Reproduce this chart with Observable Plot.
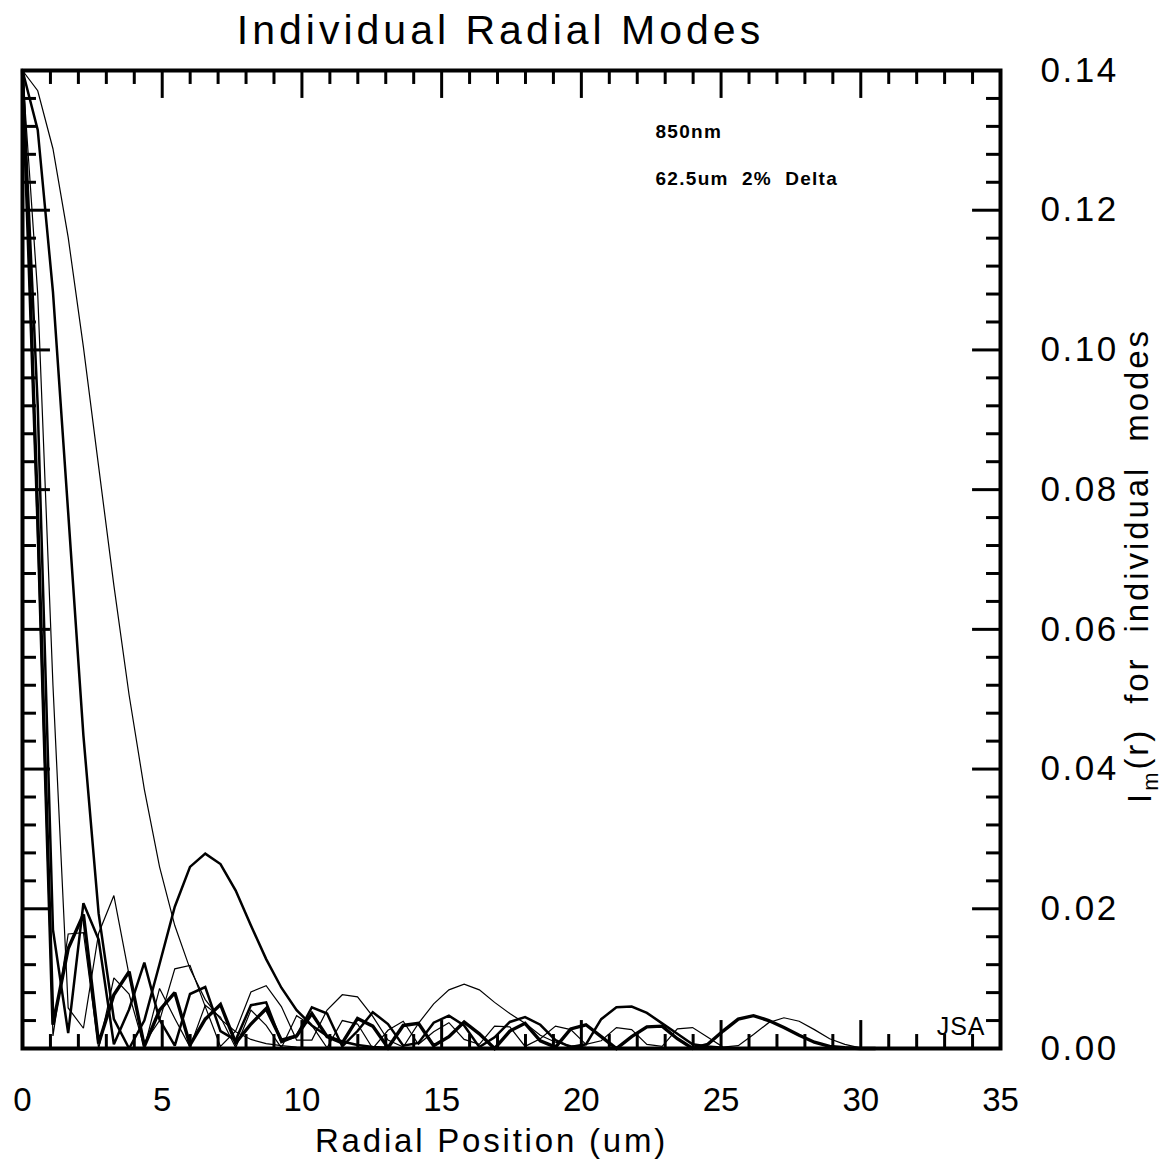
<!DOCTYPE html>
<html>
<head>
<meta charset="utf-8">
<script src="https://cdn.jsdelivr.net/npm/d3@7"></script>
<script src="https://cdn.jsdelivr.net/npm/@observablehq/plot@0.6"></script>
<style>
  html, body { margin: 0; padding: 0; background: #fff; }
  svg text { white-space: pre; }
</style>
</head>
<body>
<div id="chart"></div>
<script>
// Radial sample positions (um)
const radius = [0, 0.545, 1.09, 1.635, 2.18, 2.725, 3.27, 3.815, 4.36, 4.905, 5.45, 5.995, 6.54, 7.085, 7.63, 8.175, 8.72, 9.265, 9.81, 10.355, 10.9, 11.445, 11.99, 12.535, 13.08, 13.625, 14.17, 14.715, 15.26, 15.805, 16.35, 16.895, 17.44, 17.985, 18.53, 19.075, 19.62, 20.165, 20.71, 21.255, 21.8, 22.345, 22.89, 23.435, 23.98, 24.525, 25.07, 25.615, 26.16, 26.705, 27.25, 27.795, 28.34, 28.885, 29.43, 29.975, 30.52, 31.065];

// Intensity of individual radial modes, I_m(r)
const modeA = [0.14, 0.1371, 0.1288, 0.1161, 0.1004, 0.0833, 0.0663, 0.0506, 0.0371, 0.0260, 0.0176, 0.0114, 0.0070, 0.0042, 0.0024, 0.0013, 0.0007, 0.0004, 0.0002, 0.0001, 0, 0, 0];
const modeB = [0.14, 0.1315, 0.1083, 0.0767, 0.0448, 0.0193, 0.0042, 0.0000, 0.0040, 0.0121, 0.0203, 0.0260, 0.0279, 0.0264, 0.0226, 0.0176, 0.0128, 0.0087, 0.0055, 0.0033, 0.0018, 0.0010, 0.0005, 0.0002, 0.0001, 0, 0];
const modeC = [0.14, 0.108, 0.052, 0.0058, 0.0029, 0.0165, 0.0219, 0.0105, 0.0008, 0.0040, 0.0114, 0.0119, 0.0060, 0.0003, 0.0025, 0.0081, 0.0090, 0.0060, 0.0012, 0.0012, 0.0055, 0.0077, 0.0074, 0.0046, 0.0012, 0.0002, 0.0036, 0.0064, 0.0084, 0.0092, 0.0084, 0.0066, 0.0050, 0.0036, 0.0019, 0.0009, 0.0004, 0.0002, 0.0001, 0, 0];
const modeD = [0.14, 0.092, 0.017, 0.0022, 0.0208, 0.0156, 0.0006, 0.0056, 0.0123, 0.0041, 0.0004, 0.0078, 0.0088, 0.0025, 0.0012, 0.0062, 0.0066, 0.0009, 0.0018, 0.0059, 0.0050, 0.0003, 0.0025, 0.0052, 0.0035, 0.0004, 0.0008, 0.0037, 0.0047, 0.0033, 0.0002, 0.0016, 0.0038, 0.0045, 0.0034, 0.0012, 0.0002, 0.0006, 0.0042, 0.0059, 0.0060, 0.0051, 0.0036, 0.0021, 0.0006, 0.0003, 0.0001, 0, 0];
const modeE = [0.14, 0.076, 0.0034, 0.0143, 0.0192, 0.0007, 0.0077, 0.0110, 0.0003, 0.0055, 0.0080, 0.0005, 0.0042, 0.0063, 0.0008, 0.0035, 0.0057, 0.0012, 0.0018, 0.0050, 0.0017, 0.0008, 0.0043, 0.0032, 0.0001, 0.0033, 0.0036, 0.0004, 0.0017, 0.0038, 0.0021, 0.0000, 0.0025, 0.0036, 0.0011, 0.0002, 0.0028, 0.0034, 0.0017, 0.0000, 0.0017, 0.0031, 0.0032, 0.0014, 0.0000, 0.0006, 0.0025, 0.0042, 0.0047, 0.0040, 0.0030, 0.0019, 0.0009, 0.0003, 0.0001, 0, 0];
const modeF = [0.14, 0.0724, 0.0018, 0.0164, 0.0166, 0.0000, 0.0101, 0.0078, 0.0001, 0.0086, 0.0043, 0.0002, 0.0062, 0.0045, 0.0001, 0.0055, 0.0033, 0.0001, 0.0047, 0.0033, 0.0001, 0.0040, 0.0035, 0.0000, 0.0026, 0.0039, 0.0006, 0.0024, 0.0037, 0.0013, 0.0006, 0.0032, 0.0031, 0.0003, 0.0014, 0.0032, 0.0027, 0.0006, 0.0011, 0.0030, 0.0027, 0.0006, 0.0003, 0.0028, 0.0030, 0.0016, 0.0002, 0.0004, 0.0020, 0.0037, 0.0044, 0.0039, 0.0027, 0.0014, 0.0006, 0.0001, 0, 0];

const modes = [
  {name: "A", values: modeA, width: 1.2},
  {name: "B", values: modeB, width: 2.5},
  {name: "C", values: modeC, width: 1.2},
  {name: "D", values: modeD, width: 2.5},
  {name: "E", values: modeE, width: 3.4},
  {name: "F", values: modeF, width: 1.2}
];

// Axis ticks and labels
const xMajor = [0, 5, 10, 15, 20, 25, 30, 35];
const xMinor = [1, 2, 3, 4, 6, 7, 8, 9, 11, 12, 13, 14, 16, 17, 18, 19, 21, 22, 23, 24, 26, 27, 28, 29, 31, 32, 33, 34];
const xLabels = ["0", "5", "10", "15", "20", "25", "30", "35"];
const yMajor = [0, 0.02, 0.04, 0.06, 0.08, 0.10, 0.12, 0.14];
const yMinor = [0.004, 0.008, 0.012, 0.016, 0.024, 0.028, 0.032, 0.036, 0.044, 0.048, 0.052, 0.056, 0.064, 0.068, 0.072, 0.076, 0.084, 0.088, 0.092, 0.096, 0.104, 0.108, 0.112, 0.116, 0.124, 0.128, 0.132, 0.136];
const yLabels = ["0.00", "0.02", "0.04", "0.06", "0.08", "0.10", "0.12", "0.14"];

const title = "Individual Radial Modes";
const xTitle = "Radial Position (um)";
const yTitle = "Im(r)  for  individual  modes";
const notes = ["850nm", "62.5um  2%  Delta"];
const signature = "JSA";

const font = "'Liberation Sans', Arial, Helvetica, sans-serif";

const lineMarks = modes.map(m =>
  Plot.line(m.values.map((v, i) => ({r: radius[i], v})), {
    x: "r", y: "v", stroke: "black", strokeWidth: m.width, strokeLinejoin: "miter", strokeMiterlimit: 2
  })
);

const chart = Plot.plot({
  width: 1171,
  height: 1169,
  marginLeft: 22,
  marginRight: 171,
  marginTop: 70,
  marginBottom: 121,
  x: {domain: [0, 35], axis: null},
  y: {domain: [0, 0.14], axis: null},
  style: {fontFamily: font, background: "white", color: "black"},
  marks: [
    ...lineMarks,
    // bottom & top ticks
    Plot.ruleX(xMajor, {x: d => d, y1: 0, y2: 0.004, stroke: "black", strokeWidth: 3}),
    Plot.ruleX(xMinor, {x: d => d, y1: 0, y2: 0.002, stroke: "black", strokeWidth: 3}),
    Plot.ruleX(xMajor, {x: d => d, y1: 0.14, y2: 0.136, stroke: "black", strokeWidth: 3}),
    Plot.ruleX(xMinor, {x: d => d, y1: 0.14, y2: 0.138, stroke: "black", strokeWidth: 3}),
    // left & right ticks
    Plot.ruleY(yMajor, {y: d => d, x1: 0, x2: 1.0, stroke: "black", strokeWidth: 3}),
    Plot.ruleY(yMinor, {y: d => d, x1: 0, x2: 0.5, stroke: "black", strokeWidth: 3}),
    Plot.ruleY(yMajor, {y: d => d, x1: 35, x2: 34.0, stroke: "black", strokeWidth: 3}),
    Plot.ruleY(yMinor, {y: d => d, x1: 35, x2: 34.5, stroke: "black", strokeWidth: 3}),
    Plot.frame({stroke: "black", strokeWidth: 4}),
    // tick labels
    Plot.text(xMajor, {x: d => d, frameAnchor: "bottom", lineAnchor: "middle", textAnchor: "middle", dy: 52, text: (d, i) => xLabels[i], fontSize: 33, fill: "black"}),
    Plot.text(yMajor, {y: d => d, frameAnchor: "right", lineAnchor: "middle", dx: 40, textAnchor: "start", text: (d, i) => yLabels[i], fontSize: 35, fill: "black"}),
    // titles
    Plot.text([title], {frameAnchor: "top", lineAnchor: "middle", textAnchor: "middle", dx: -11, dy: -40, text: d => d, fontSize: 41, fill: "black"}),
    Plot.text([xTitle], {frameAnchor: "bottom", lineAnchor: "middle", textAnchor: "middle", dx: -20, dy: 93, text: d => d, fontSize: 33, fill: "black"}),
    Plot.text([yTitle], {frameAnchor: "right", lineAnchor: "middle", textAnchor: "middle", dx: 140, dy: 6, rotate: -90, text: d => d, fontSize: 33, fill: "black"}),
    // annotations
    Plot.text([notes[0]], {frameAnchor: "top-left", lineAnchor: "middle", dx: 633, dy: 61, textAnchor: "start", text: d => d, fontSize: 19, fontWeight: "bold", fill: "black"}),
    Plot.text([notes[1]], {frameAnchor: "top-left", lineAnchor: "middle", dx: 633, dy: 108, textAnchor: "start", text: d => d, fontSize: 19, fontWeight: "bold", fill: "black"}),
    Plot.text([signature], {frameAnchor: "bottom-right", lineAnchor: "middle", dx: -15, dy: -22, textAnchor: "end", text: d => d, fontSize: 25, fill: "black"})
  ]
});

document.getElementById("chart").appendChild(chart);

// letter spacing (Hershey-like wide text) and subscript m in the y title
const spacing = new Map([
  [title, "4px"], [xTitle, "2.8px"], [yTitle, "2.9px"],
  [notes[0], "1.3px"], [notes[1], "1.3px"], [signature, "1px"]
]);
d3.select(chart).selectAll("text").each(function() {
  const content = this.textContent;
  const t = d3.select(this);
  if (spacing.has(content)) t.attr("letter-spacing", spacing.get(content));
  if (yLabels.includes(content)) t.attr("letter-spacing", "2.5px");
  if (content === yTitle) {
    t.text(null);
    t.append("tspan").text("I");
    t.append("tspan").attr("dy", "0.3em").attr("font-size", "22").text("m");
    t.append("tspan").attr("dy", "-0.3em").text("(r)  for  individual  modes");
  }
});
</script>
</body>
</html>
